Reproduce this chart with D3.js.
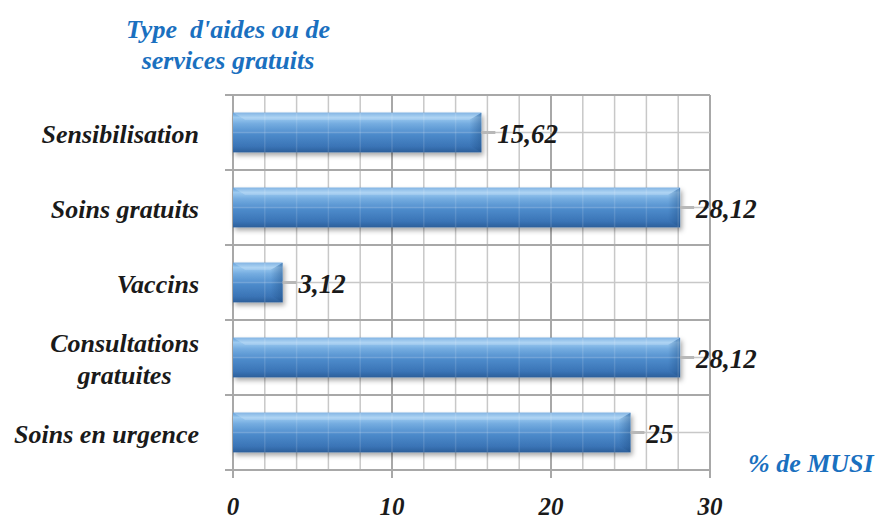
<!DOCTYPE html>
<html>
<head>
<meta charset="utf-8">
<script src="https://cdn.jsdelivr.net/npm/d3@7"></script>
<style>
  html, body { margin: 0; padding: 0; background: #fff; }
  svg { display: block; }
  text { font-family: "Liberation Serif", "Times New Roman", "DejaVu Serif", serif; font-weight: bold; font-style: italic; }
</style>
</head>
<body>
<svg id="chart" width="877" height="521"></svg>
<script>
// Aid / free service types and their share (%)
const categories = ["Sensibilisation", "Soins gratuits", "Vaccins", "Consultations gratuites", "Soins en urgence"];
const categoryLines = [["Sensibilisation"], ["Soins gratuits"], ["Vaccins"], ["Consultations", "gratuites"], ["Soins en urgence"]];
const values = [15.62, 28.12, 3.12, 28.12, 25];
const valueLabels = ["15,62", "28,12", "3,12", "28,12", "25"];
const xTicks = [0, 10, 20, 30];
const titleLines = ["Type  d'aides ou de", "services gratuits"];
const xTitle = "% de MUSI";

const svg = d3.select("#chart");
const plotLeft = 233, plotRight = 710, plotTop = 95, plotBottom = 470;

const x = d3.scaleLinear().domain([0, 30]).range([plotLeft, plotRight]);
const y = d3.scaleBand().domain(categories).range([plotTop, plotBottom]).padding(0);

const defs = svg.append("defs");
const grad = defs.append("linearGradient").attr("id", "barGrad")
  .attr("x1", 0).attr("y1", 0).attr("x2", 0).attr("y2", 1);
[["0%", "#5b9bd8"], ["12%", "#9ccaf0"], ["28%", "#74ace0"], ["55%", "#4d8bcb"], ["85%", "#3a74b6"], ["100%", "#2c5f9a"]]
  .forEach(([o, c]) => grad.append("stop").attr("offset", o).attr("stop-color", c));
const endGrad = defs.append("linearGradient").attr("id", "endGrad")
  .attr("x1", 0).attr("y1", 0).attr("x2", 1).attr("y2", 0);
endGrad.append("stop").attr("offset", "0%").attr("stop-color", "#1f4f86").attr("stop-opacity", 0);
endGrad.append("stop").attr("offset", "100%").attr("stop-color", "#1f4f86").attr("stop-opacity", 0.45);
const shadow = defs.append("filter").attr("id", "shadow").attr("x", "-10%").attr("y", "-30%").attr("width", "130%").attr("height", "170%");
shadow.append("feDropShadow").attr("dx", 2).attr("dy", 3).attr("stdDeviation", 2.5)
  .attr("flood-color", "#000").attr("flood-opacity", 0.35);

// Grid: vertical lines every 2 units, darker every 10
const grid = svg.append("g");
d3.range(0, 31, 2).forEach(v => {
  const major = v % 10 === 0;
  grid.append("line")
    .attr("x1", x(v)).attr("x2", x(v))
    .attr("y1", plotTop).attr("y2", plotBottom + (major ? 8 : 0))
    .attr("stroke", major ? "#a8a8a8" : "#c8c8c8")
    .attr("stroke-width", major ? 2 : 1.5);
});
// Category boundaries
d3.range(categories.length + 1).forEach(i => {
  const yy = plotTop + i * y.bandwidth();
  grid.append("line")
    .attr("x1", plotLeft - 8).attr("x2", plotRight)
    .attr("y1", yy).attr("y2", yy)
    .attr("stroke", "#a8a8a8").attr("stroke-width", 2);
});
// Lines through band centres
categories.forEach(c => {
  const yy = y(c) + y.bandwidth() / 2;
  grid.append("line")
    .attr("x1", plotLeft).attr("x2", plotRight)
    .attr("y1", yy).attr("y2", yy)
    .attr("stroke", "#c8c8c8").attr("stroke-width", 1.5);
});

// Bars
const barH = y.bandwidth() * 0.53;
const bars = svg.append("g");
categories.forEach((c, i) => {
  const y0 = y(c) + (y.bandwidth() - barH) / 2;
  const x0 = x(0), x1 = x(values[i]);
  const g = bars.append("g");
  g.append("rect")
    .attr("x", x0).attr("y", y0).attr("width", x1 - x0).attr("height", barH)
    .attr("fill", "url(#barGrad)").attr("filter", "url(#shadow)");
  // right bevel
  const b = Math.min(12, (x1 - x0) / 3);
  g.append("path")
    .attr("d", `M${x1 - b},${y0 + b * 0.6} L${x1},${y0} L${x1},${y0 + barH} L${x1 - b},${y0 + barH - b * 0.6} Z`)
    .attr("fill", "url(#endGrad)");
  g.append("path")
    .attr("d", `M${x0},${y0} L${x1},${y0} L${x1 - b},${y0 + b * 0.6} L${x0 + b},${y0 + b * 0.6} Z`)
    .attr("fill", "#cfe6fa").attr("opacity", 0.35);
  // faint grid showing through bar
  g.append("line")
    .attr("x1", x0).attr("x2", x1).attr("y1", y(c) + y.bandwidth() / 2).attr("y2", y(c) + y.bandwidth() / 2)
    .attr("stroke", "#ffffff").attr("stroke-opacity", 0.18).attr("stroke-width", 1.5);
  d3.range(2, values[i], 2).forEach(v => {
    g.append("line")
      .attr("x1", x(v)).attr("x2", x(v)).attr("y1", y0).attr("y2", y0 + barH)
      .attr("stroke", "#ffffff").attr("stroke-opacity", 0.12).attr("stroke-width", 1.5);
  });
  // leader and value label
  const cy = y(c) + y.bandwidth() / 2;
  svg.append("line")
    .attr("x1", x1).attr("x2", x1 + 14).attr("y1", cy).attr("y2", cy)
    .attr("stroke", "#b8b8b8").attr("stroke-width", 3);
  svg.append("text")
    .attr("x", x1 + 16).attr("y", cy + 10)
    .attr("font-size", 27).attr("fill", "#1a1a1a")
    .text(valueLabels[i]);
});

// Category labels: block right-aligned to the axis, lines centred within it
categories.forEach((c, i) => {
  const lines = categoryLines[i];
  const cy = y(c) + y.bandwidth() / 2;
  const lh = 32;
  const g = svg.append("g");
  const texts = lines.map((ln, j) => g.append("text")
    .attr("y", cy + 10 + (j - (lines.length - 1) / 2) * lh)
    .attr("text-anchor", "middle").attr("font-size", 26).attr("fill", "#1a1a1a")
    .text(ln));
  const maxW = d3.max(texts, t => t.node().getComputedTextLength());
  texts.forEach(t => t.attr("x", 199 - maxW / 2));
});

// X tick labels
xTicks.forEach(t => {
  svg.append("text")
    .attr("x", x(t)).attr("y", 515)
    .attr("text-anchor", "middle").attr("font-size", 25).attr("fill", "#1a1a1a")
    .text(t);
});

// Titles
titleLines.forEach((t, j) => {
  svg.append("text")
    .attr("x", 228).attr("y", 38 + j * 31)
    .attr("text-anchor", "middle").attr("font-size", 26).attr("fill", "#1a70bf")
    .attr("xml:space", "preserve")
    .text(t);
});
svg.append("text")
  .attr("x", 748).attr("y", 472)
  .attr("font-size", 26).attr("fill", "#1a70bf")
  .text(xTitle);
</script>
</body>
</html>
